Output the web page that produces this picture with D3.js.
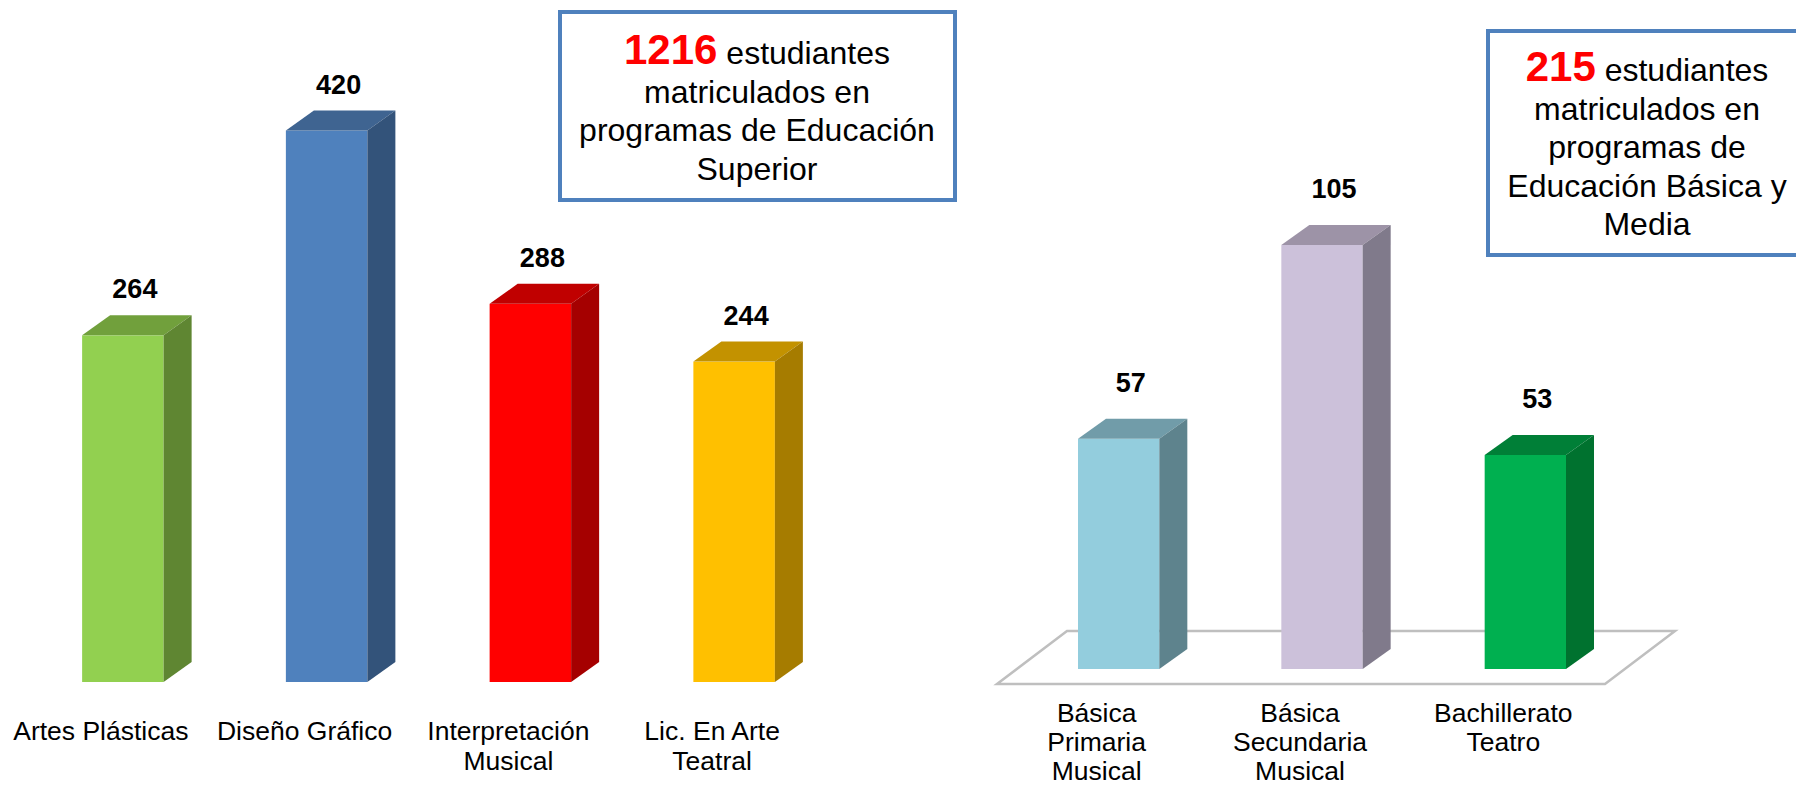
<!DOCTYPE html>
<html lang="es">
<head>
  <meta charset="UTF-8">
  <title>Estudiantes matriculados</title>
  <script src="https://d3js.org/d3.v7.min.js"></script>
  <style>
    body { margin: 0; background: #fff; }
    svg { display: block; font-family: Arial, "Liberation Sans", sans-serif; }
  </style>
</head>
<body>
  <script>
    // data
    const supCats = ["Artes Plásticas", "Diseño Gráfico", "Interpretación Musical", "Lic. En Arte Teatral"];
    const supVals = [264, 420, 288, 244];
    const basCats = ["Básica Primaria Musical", "Básica Secundaria Musical", "Bachillerato Teatro"];
    const basVals = [57, 105, 53];
    const supTotal = 1216;
    const basTotal = 215;
    const supBoxLines = ["matriculados en", "programas de Educación", "Superior"];
    const basBoxLines = ["matriculados en", "programas de", "Educación Básica y", "Media"];

    // colours (front / top / side)
    const supFront = ["#92D050", "#4F81BD", "#FF0000", "#FFC000"];
    const supTop = ["#71A03C", "#3F6491", "#C00000", "#C39200"];
    const supSide = ["#5F8632", "#33537A", "#A50000", "#A67C00"];
    const basFront = ["#93CDDD", "#CCC1DA", "#00B050"];
    const basTop = ["#719CA9", "#9D93A7", "#007F37"];
    const basSide = ["#5E838D", "#807A8B", "#00722F"];

    const W = 1796, H = 788;
    const dx = 28, dy = 20;

    const svg = d3.select('body').append('svg')
      .attr('width', W)
      .attr('height', H);

    // word wrap for category labels
    function wrap(text, width, lh) {
      text.each(function () {
        const t = d3.select(this);
        const words = t.text().split(/\s+/);
        const x = t.attr('x'), y = t.attr('y');
        t.text(null);
        let line = [];
        let n = 0;
        let tspan = t.append('tspan').attr('x', x).attr('y', y);
        words.forEach(w => {
          line.push(w);
          tspan.text(line.join(' '));
          if (tspan.node().getComputedTextLength() > width && line.length > 1) {
            line.pop();
            tspan.text(line.join(' '));
            line = [w];
            n++;
            tspan = t.append('tspan').attr('x', x).attr('y', +y + n * lh).text(w);
          }
        });
      });
    }

    function drawChart(cats, vals, front, top, side, opt) {
      const g = svg.append('g');
      const x = d3.scaleBand()
        .domain(cats)
        .range(opt.xRange)
        .paddingInner(0.6)
        .paddingOuter(0.3);
      const y = d3.scaleLinear()
        .domain([0, d3.max(vals)])
        .range([opt.bottom, opt.top]);
      const bw = x.bandwidth();
      const data = cats.map((c, i) => ({ c, v: vals[i], i }));

      if (opt.floor) {
        const fx0 = opt.xRange[0] - 20, fx1 = opt.xRange[1] - 22;
        const fy = opt.bottom + 15, by = opt.bottom - 38;
        g.append('path')
          .attr('d', `M${fx0},${fy}L${fx1},${fy}L${fx1 + 70},${by}L${fx0 + 70},${by}Z`)
          .attr('fill', 'none')
          .attr('stroke', '#BFBFBF')
          .attr('stroke-width', 2.5);
      }

      const bars = g.selectAll('.bar')
        .data(data)
        .enter()
        .append('g');

      bars.append('rect')
        .attr('x', d => x(d.c))
        .attr('y', d => y(d.v))
        .attr('width', bw)
        .attr('height', d => opt.bottom - y(d.v))
        .attr('fill', d => front[d.i]);

      bars.append('path')
        .attr('d', d => {
          const x0 = x(d.c), yt = y(d.v);
          return `M${x0},${yt}L${x0 + dx},${yt - dy}L${x0 + bw + dx},${yt - dy}L${x0 + bw},${yt}Z`;
        })
        .attr('fill', d => top[d.i]);

      bars.append('path')
        .attr('d', d => {
          const x1 = x(d.c) + bw, yt = y(d.v);
          return `M${x1},${yt}L${x1 + dx},${yt - dy}L${x1 + dx},${opt.bottom - dy}L${x1},${opt.bottom}Z`;
        })
        .attr('fill', d => side[d.i]);

      // value labels
      g.selectAll('.val')
        .data(data)
        .enter()
        .append('text')
        .attr('x', d => x(d.c) + bw / 2 + 12)
        .attr('y', d => y(d.v) - dy - opt.labelGap)
        .attr('text-anchor', 'middle')
        .attr('font-size', 27)
        .attr('font-weight', 'bold')
        .attr('fill', '#000')
        .text(d => d.v);

      // category labels
      g.selectAll('.cat')
        .data(data)
        .enter()
        .append('text')
        .attr('x', d => x(d.c) + bw / 2 - 22)
        .attr('y', opt.catY)
        .attr('text-anchor', 'middle')
        .attr('font-size', 26.5)
        .attr('fill', '#000')
        .text(d => d.c)
        .call(wrap, opt.wrapW, opt.lineH);
    }

    function drawBox(x0, y0, w, h, cx, total, lines, firstBase) {
      svg.append('rect')
        .attr('x', x0)
        .attr('y', y0)
        .attr('width', w)
        .attr('height', h)
        .attr('fill', '#fff')
        .attr('stroke', '#4F81BD')
        .attr('stroke-width', 4);
      const t = svg.append('text')
        .attr('x', cx)
        .attr('y', firstBase)
        .attr('text-anchor', 'middle')
        .attr('font-size', 32);
      t.append('tspan')
        .attr('font-size', 42)
        .attr('font-weight', 'bold')
        .attr('fill', '#FF0000')
        .text(total);
      t.append('tspan').text(' estudiantes');
      lines.forEach((l, i) => {
        svg.append('text')
          .attr('x', cx)
          .attr('y', firstBase + 38.5 * (i + 1))
          .attr('text-anchor', 'middle')
          .attr('font-size', 32)
          .text(l);
      });
    }

    drawChart(supCats, supVals, supFront, supTop, supSide, {
      xRange: [21, 836], bottom: 682, top: 130.5, labelGap: 17, catY: 740, wrapW: 195, lineH: 30
    });

    drawChart(basCats, basVals, basFront, basTop, basSide, {
      xRange: [1017, 1627], bottom: 669, top: 245, labelGap: 27, catY: 722, wrapW: 160, lineH: 29, floor: true
    });

    drawBox(560, 12, 395, 188, 757, supTotal, supBoxLines, 64);
    drawBox(1488, 31, 330, 224, 1647, basTotal, basBoxLines, 81);
  </script>
</body>
</html>
